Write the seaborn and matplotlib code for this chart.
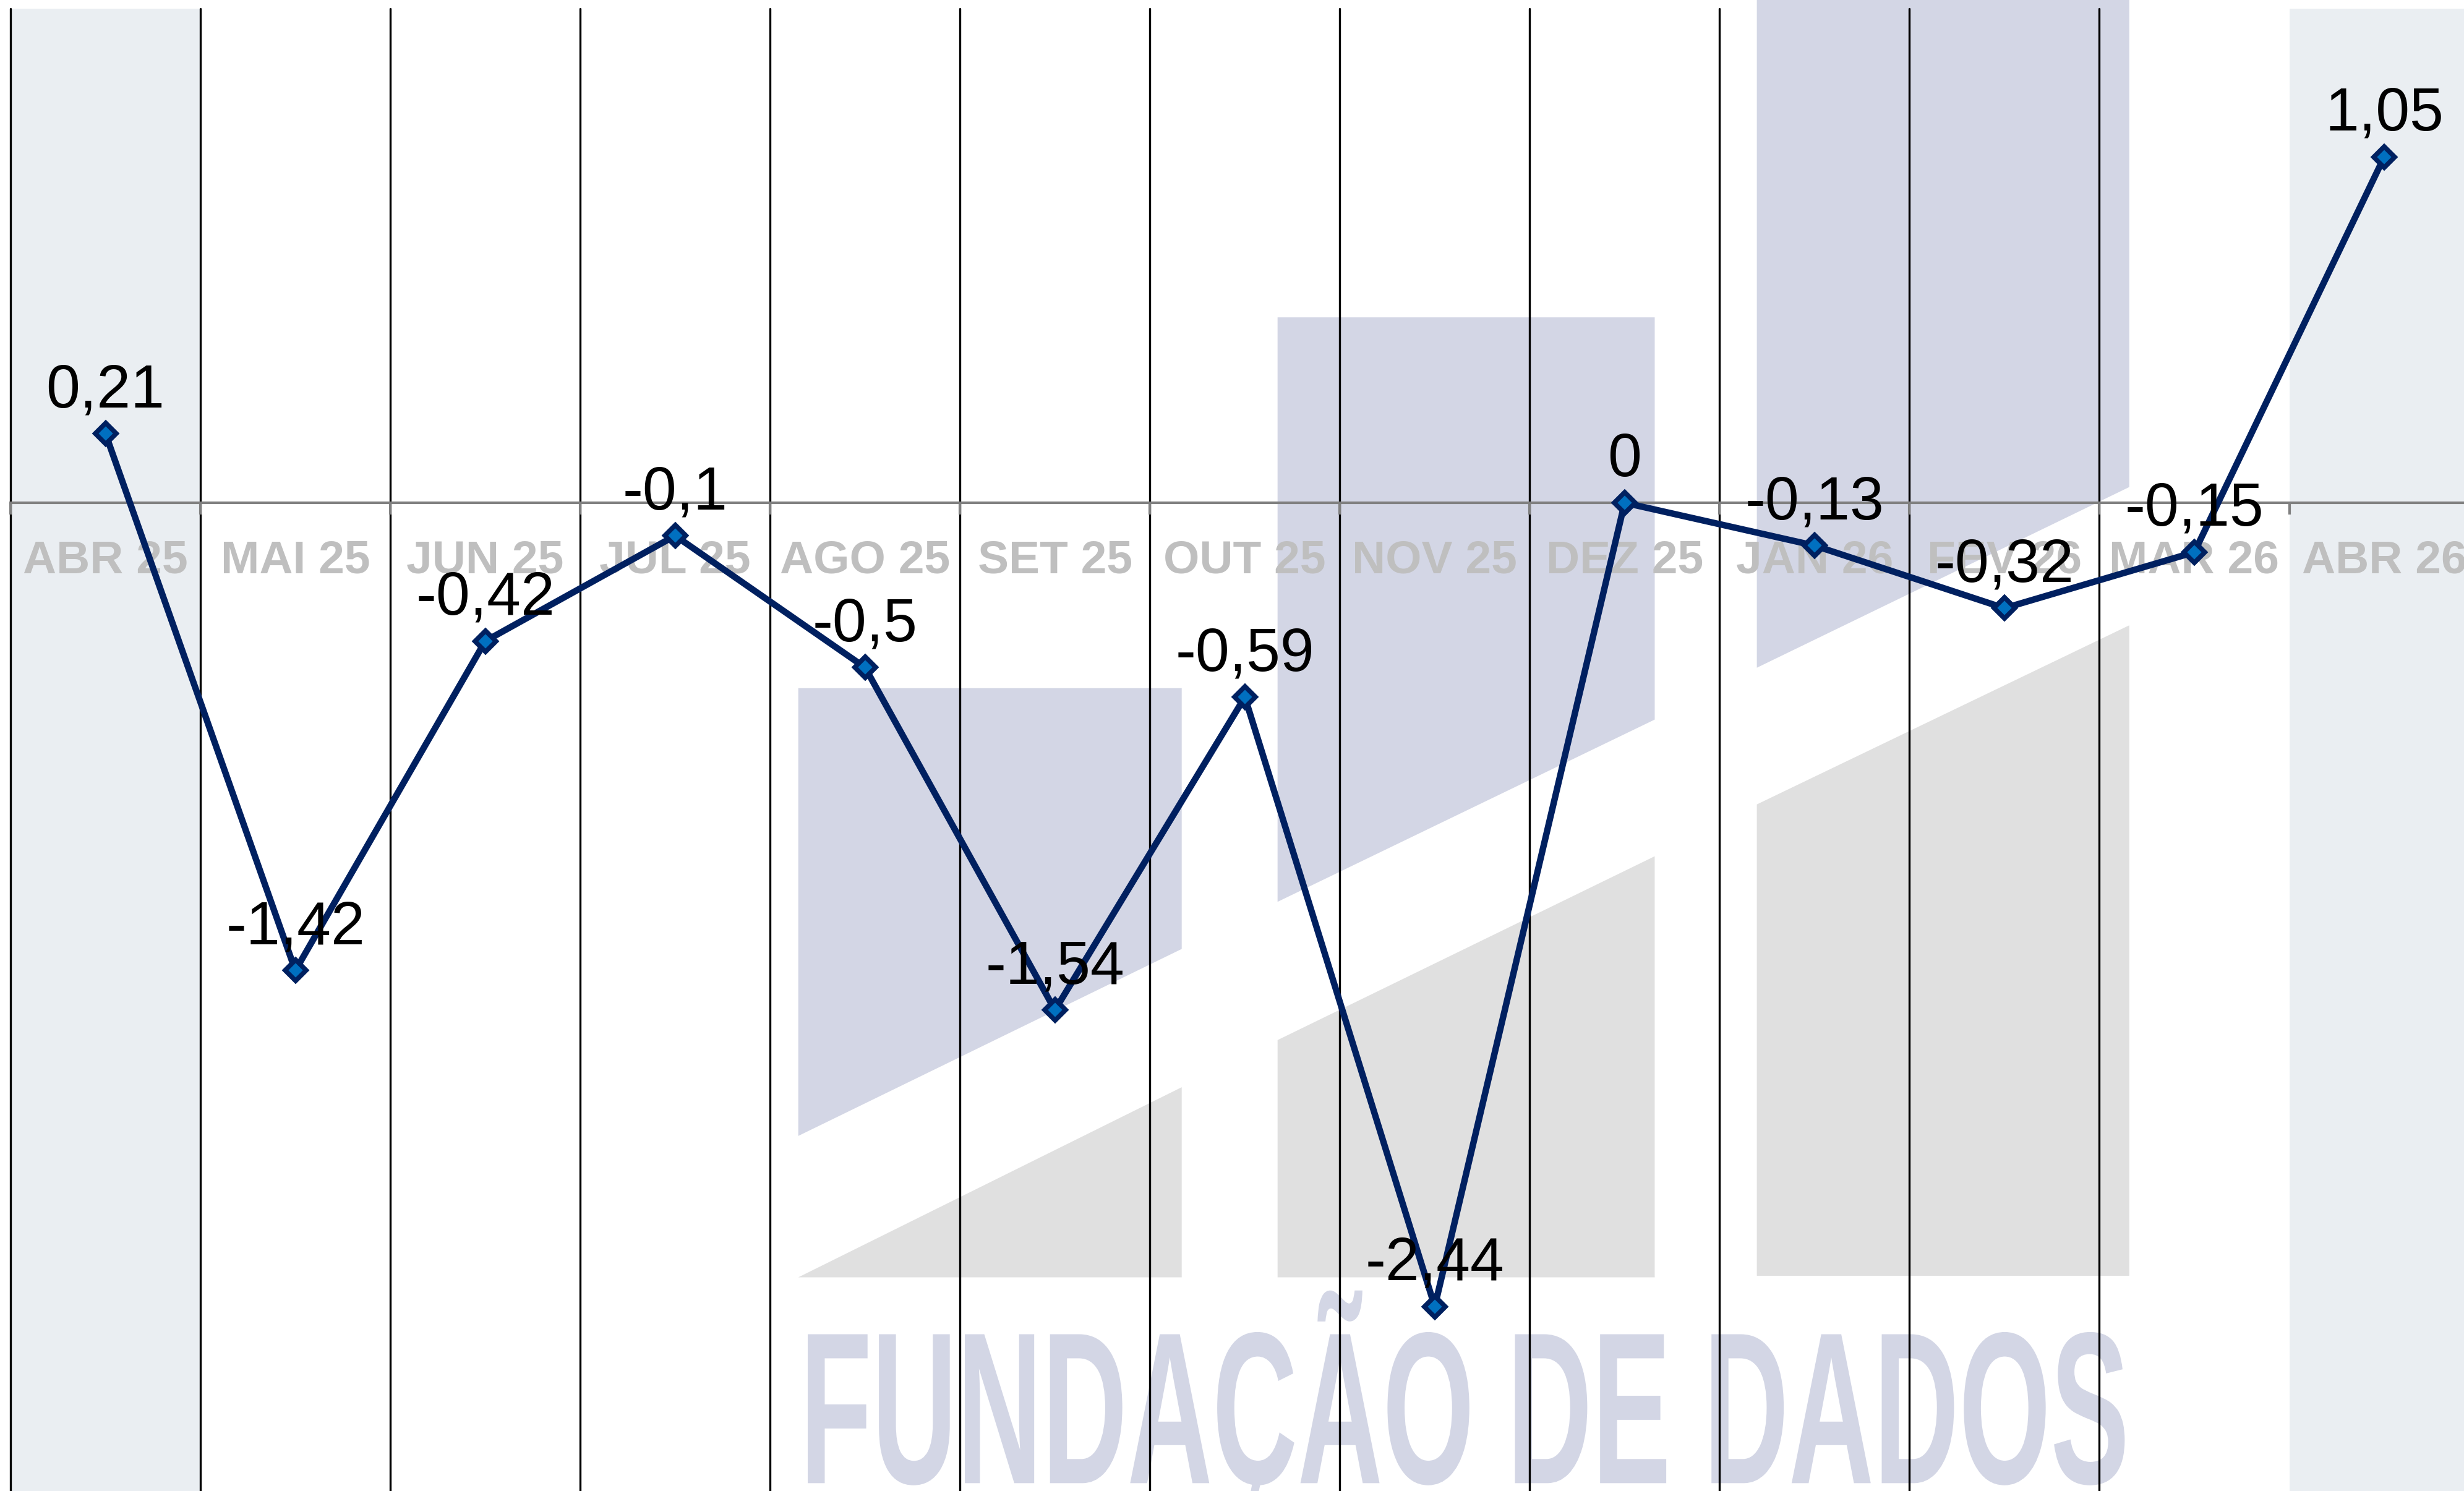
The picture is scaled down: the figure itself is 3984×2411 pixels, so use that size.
import matplotlib
matplotlib.use("Agg")
import matplotlib.pyplot as plt
import seaborn as sns
import pandas as pd
from matplotlib.patches import Polygon
from matplotlib.patheffects import AbstractPathEffect
from matplotlib.transforms import Affine2D

# data
months = ["ABR 25", "MAI 25", "JUN 25", "JUL 25", "AGO 25", "SET 25", "OUT 25",
          "NOV 25", "DEZ 25", "JAN 26", "FEV 26", "MAR 26", "ABR 26"]
values = [0.21, -1.42, -0.42, -0.1, -0.5, -1.54, -0.59, -2.44, 0, -0.13, -0.32, -0.15, 1.05]
labels = [f"{v:g}".replace(".", ",") for v in values]

NAVY = "#002060"
MARK = "#0070C0"
SHADE = "#EAEEF2"
LAV = "#D3D6E5"
GREY_WM = "#E0E0E0"

sns.set_theme(style="white")
plt.rcParams["font.family"] = ["Liberation Sans", "DejaVu Sans"]

W, H = 3984, 2411
fig = plt.figure(figsize=(W / 100, H / 100), dpi=100)
ax = fig.add_axes([17 / W, 0, 1 - 17 / W, 1 - 14 / H])
ax.set_xlim(-0.5, 12.42)
ax.set_ylim(-3.0, 1.5)
ax.patch.set_alpha(0)

# shaded first / last column
ax.axvspan(-0.5, 0.5, color=SHADE, lw=0, zorder=0.1)
ax.axvspan(11.5, 12.42, color=SHADE, lw=0, zorder=0.1)

# watermark logo (shapes given in 1568x949 preview pixels)
def frac(pts):
    return [(x / 1568, 1 - y / 949) for x, y in pts]

lav_shapes = [
    [(508, 438), (752, 438), (752, 604), (508, 723)],
    [(813, 202), (1053, 202), (1053, 458), (813, 574)],
    [(1118, -5), (1355, -5), (1355, 310), (1118, 425)],
]
grey_shapes = [
    [(508, 813), (752, 692), (752, 813)],
    [(813, 662), (1053, 545), (1053, 813), (813, 813)],
    [(1118, 512), (1355, 398), (1355, 812), (1118, 812)],
]
for pts in lav_shapes:
    ax.add_patch(Polygon(frac(pts), closed=True, fc=LAV, ec="none",
                         transform=fig.transFigure, clip_on=False, zorder=0.3))
for pts in grey_shapes:
    ax.add_patch(Polygon(frac(pts), closed=True, fc=GREY_WM, ec="none",
                         transform=fig.transFigure, clip_on=False, zorder=0.3))


class Squeeze(AbstractPathEffect):
    # narrows the glyphs horizontally around cx (display pixels)
    def __init__(self, sx, cx):
        super().__init__()
        self.sx, self.cx = sx, cx

    def draw_path(self, renderer, gc, tpath, affine, rgbFace=None):
        sq = Affine2D().translate(-self.cx, 0).scale(self.sx, 1).translate(self.cx, 0)
        renderer.draw_path(gc, tpath, affine + sq, rgbFace)


wm_cx = (509 + 1355) / 2 / 1568
wm = ax.text(wm_cx, 1 - 944 / 949, "FUNDAÇÃO DE DADOS", transform=fig.transFigure,
             ha="center", va="baseline", fontsize=252, fontweight="bold",
             color=LAV, clip_on=False, zorder=0.35)

# column separators
for b in range(len(months) - 1):
    ax.axvline(b - 0.5, color="black", lw=2.4, zorder=1, clip_on=False)

# line
df = pd.DataFrame({"pos": range(len(months)), "val": values})
sns.lineplot(data=df, x="pos", y="val", ax=ax, color=NAVY, linewidth=7.5, marker="D",
             markersize=17, markerfacecolor=MARK, markeredgecolor=NAVY,
             markeredgewidth=5.5, zorder=3)

for x, v, t in zip(df["pos"], values, labels):
    ax.annotate(t, (x, v), xytext=(0, 31), textcoords="offset points",
                ha="center", va="baseline", fontsize=71, color="black", zorder=4)

# axis at zero
for s in ["left", "right", "top"]:
    ax.spines[s].set_visible(False)
ax.spines["bottom"].set_position(("data", 0))
ax.spines["bottom"].set_color("#808080")
ax.spines["bottom"].set_linewidth(3)
ax.set_yticks([])
ax.set_xticks([b - 0.5 for b in range(len(months))])
ax.set_xticklabels([])
ax.set_xticks(range(len(months)), minor=True)
ax.set_xticklabels(months, minor=True)
ax.tick_params(axis="x", which="major", length=14, width=3, color="#808080",
               direction="out", bottom=True)
ax.tick_params(axis="x", which="minor", length=0, pad=43, labelsize=54,
               labelcolor="#BFBFBF", bottom=True)
for lbl in ax.get_xticklabels(minor=True):
    lbl.set_fontweight("bold")
ax.xaxis.set_zorder(1.2)
ax.set_xlabel("")
ax.set_ylabel("")

fig.canvas.draw()
wm_w = wm.get_window_extent().width
wm.set_path_effects([Squeeze((1355 - 509) * W / 1568 / wm_w, wm_cx * W)])

fig.savefig("out.png", dpi=100)
